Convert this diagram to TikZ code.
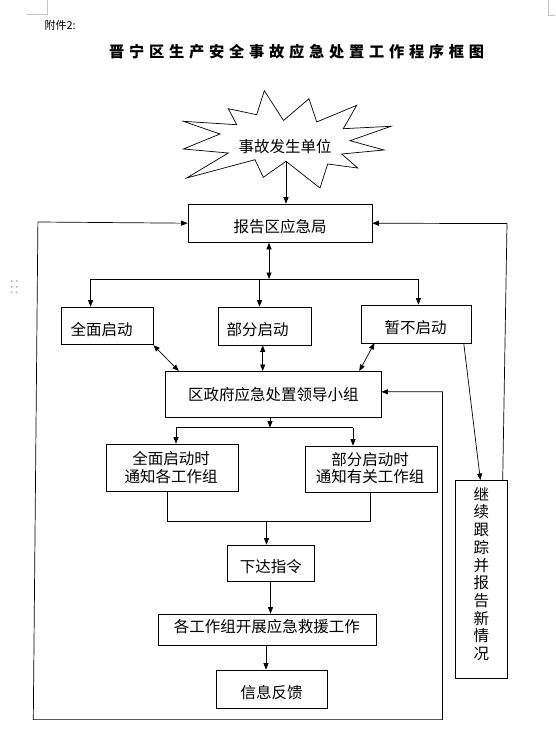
\documentclass[tikz,border=0pt]{standalone}
\usepackage{fontspec}
\usepackage{graphicx}
\setmainfont{Noto Sans CJK SC}
\usetikzlibrary{arrows.meta}
\newcommand\tsp{\kern5.0pt}
\begin{document}
\begin{tikzpicture}[x=1pt,y=-1pt,
  box/.style={draw=black,line width=0.7pt,inner sep=0pt},
  txt/.style={inner sep=0pt,align=center,font=\fontsize{15.5}{17.7}\selectfont},
  ln/.style={line width=0.7pt},
  arr/.style={ln,-{Triangle[length=6.5pt,width=5pt]}},
  darr/.style={ln,{Triangle[length=6.5pt,width=5pt]}-{Triangle[length=6.5pt,width=5pt]}},
  cornermark/.style={draw=gray!45,line width=0.6pt}
]
\fill[white] (0,0) rectangle (555,730);
\useasboundingbox (0,0) rectangle (555,730);

% page corner marks and handle dots
\draw[cornermark] (26.7,14.5) -- (47.7,14.5) -- (47.7,0);
\draw[cornermark] (555,15) -- (548.7,15) -- (548.7,0);
\foreach \xx in {11.7,16.7}{\foreach \yy in {281,286.7,292.3}{\fill[gray!55] (\xx,\yy) circle (1.1);}}

% header texts
\node[inner sep=0pt,anchor=west,font=\fontsize{11}{12}\selectfont] (fj) at (44.3,25) {附件2:};
\node[inner sep=0pt,font={\bfseries\fontsize{16}{18}\selectfont}] (title) at (296.7,51.3) {\resizebox{375pt}{!}{晋\tsp 宁\tsp 区\tsp 生\tsp 产\tsp 安\tsp 全\tsp 事\tsp 故\tsp 应\tsp 急\tsp 处\tsp 置\tsp 工\tsp 作\tsp 程\tsp 序\tsp 框\tsp 图}};

% burst
\draw[line width=0.7pt,line join=miter] (264.3,90.7) -- (283.5,120.5) -- (309,98.7) -- (316.7,122) -- (356.7,105.3) -- (343.3,128.7) -- (391,126.3) -- (350,140.7) -- (384,150) -- (341.7,154) -- (357.7,168) -- (327.7,164) -- (320,188) -- (286,161.3) -- (263.3,177.3) -- (255,159.7) -- (186.7,178) -- (228.3,153) -- (183.3,149) -- (220,134) -- (183.3,121.3) -- (236.7,124.7) -- (228.3,108.7) -- (256.7,114.7) -- cycle;
\node[txt] (bt) at (285,147) {事故发生单位};
\coordinate (bb) at (286,161.3);

% boxes
\node[box,minimum width=184,minimum height=38.4] (b1) at (280,223.2) {};
\node[txt] (b1t) at (280,227) {报告区应急局};
\node[box,minimum width=92,minimum height=37.7] (q) at (107,325.9) {};
\node[txt] (qt) at (101.5,330) {全面启动};
\node[box,minimum width=93,minimum height=38] (p) at (264.5,326) {};
\node[txt] (pt) at (257.5,330) {部分启动};
\node[box,minimum width=110.5,minimum height=38] (n) at (416.2,324) {};
\node[txt] (nt) at (415.5,328) {暂不启动};
\node[box,minimum width=216,minimum height=46] (l) at (273,394) {};
\node[txt] (lt) at (273.3,394.6) {区政府应急处置领导小组};
\node[box,minimum width=132,minimum height=47.7] (w1) at (172,467.9) {};
\node[txt] (w1t) at (171,467.3) {全面启动时\\通知各工作组};
\node[box,minimum width=132,minimum height=46.7] (w2) at (371.5,469.4) {};
\node[txt] (w2t) at (370,468.2) {部分启动时\\通知有关工作组};
\node[box,minimum width=87,minimum height=36] (d) at (270.5,563) {};
\node[txt] (dt) at (270.8,567) {下达指令};
\node[box,minimum width=218,minimum height=31.7] (g) at (267,629.9) {};
\node[txt] (gt) at (266.8,626.5) {各工作组开展应急救援工作};
\node[box,minimum width=111.4,minimum height=38.3] (f) at (271.7,689.2) {};
\node[txt] (ft) at (271.7,693) {信息反馈};
\node[box,minimum width=52,minimum height=198.6] (c) at (481,579.3) {};
\node[txt] (ct) at (481.4,574) {继\\续\\跟\\踪\\并\\报\\告\\新\\情\\况};

% connectors
\draw[arr] (bb) -- (bb |- b1.north);
\coordinate (j1) at (269,279);
\draw[darr] (b1.south -| j1) -- (j1);
\coordinate (h1l) at (90.6,279);
\coordinate (h1m) at (259.5,279);
\coordinate (h1r) at (418.4,279);
\draw[ln] (h1l) -- (h1r);
\draw[arr] (h1l) -- (h1l |- q.north);
\draw[arr] (h1m) -- (h1m |- p.north);
\draw[arr] (h1r) -- (h1r |- n.north);

\coordinate (lq) at (178.8,371);
\coordinate (lp) at (262.7,371);
\coordinate (nb) at (374.5,343);
\coordinate (lnn) at (359.3,371);
\draw[darr] (q.south east) -- (lq);
\draw[darr] (p.south -| lp) -- (lp);
\draw[darr] (nb) -- (lnn);

\coordinate (j2) at (270,427.6);
\coordinate (h2l) at (176,427.6);
\coordinate (h2r) at (353,427.6);
\draw[arr] (l.south -| j2) -- (j2);
\draw[ln] (h2l) -- (h2r);
\draw[arr] (h2l) -- (h2l |- w1.north);
\draw[arr] (h2r) -- (h2r |- w2.north);

\coordinate (m1) at (167,521.4);
\coordinate (m2) at (370.6,521.4);
\coordinate (m3) at (266.5,521.4);
\draw[ln] (w1.south -| m1) -- (m1) -- (m2) -- (w2.south -| m2);
\draw[arr] (m3) -- (m3 |- d.north);
\draw[arr] (d.south) -- (d.south |- g.north);
\coordinate (gf) at (266,645.7);
\draw[arr] (gf) -- (gf |- f.north);

% left feedback loop
\coordinate (lp1) at (442.5,391.8);
\coordinate (lp2) at (442.5,719.6);
\coordinate (lp3) at (33.3,719.6);
\coordinate (lp4) at (37.9,222);
\draw[darr] (l.east |- lp1) -- (lp1) -- (lp2) -- (lp3) -- (lp4) -- (b1.west);

% right tracking loop
\coordinate (nr) at (463.7,343);
\coordinate (ctop) at (480.4,480);
\draw[arr] (nr) -- (ctop);
\coordinate (cr) at (502.7,480);
\coordinate (rt) at (507,223.6);
\draw[arr] (cr) -- (rt) -- (b1.east);
\end{tikzpicture}
\end{document}
